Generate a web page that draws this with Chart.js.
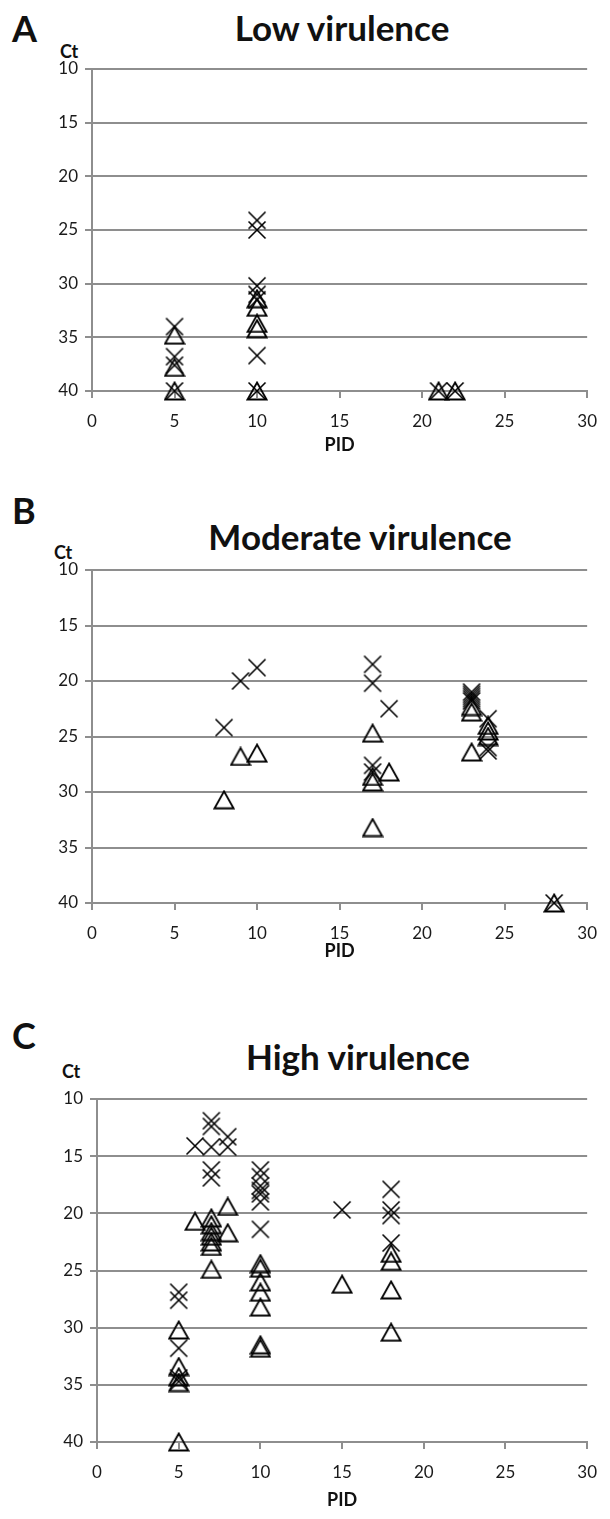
<!DOCTYPE html>
<html>
<head>
<meta charset="utf-8">
<script src="https://cdn.jsdelivr.net/npm/chart.js@4.4.1/dist/chart.umd.min.js"></script>
<style>
  body { margin: 0; background: #fff; width: 610px; height: 1519px; position: relative; overflow: hidden; font-family: Lato, "Open Sans", sans-serif; color: #111; }
  .panel { position: absolute; left: 0; width: 610px; }
  .letter { position: absolute; font-weight: bold; font-size: 36px; line-height: 1; }
  .title { position: absolute; font-weight: bold; font-size: 35px; line-height: 1; white-space: nowrap; transform: translateX(-50%); }
  .ct { position: absolute; font-weight: bold; font-size: 18px; line-height: 1; }
</style>
</head>
<body>
<div class="letter" style="left:12px; top:10px;">A</div>
<div class="title" style="left:342px; top:10px;">Low virulence</div>
<div class="ct" style="left:60px; top:42px;">Ct</div>
<div class="panel" style="top:0; height:465px;"><canvas id="chart-low"></canvas></div>

<div class="letter" style="left:12px; top:492px;">B</div>
<div class="title" style="left:360px; top:519px;">Moderate virulence</div>
<div class="ct" style="left:54px; top:543px;">Ct</div>
<div class="panel" style="top:480px; height:490px;"><canvas id="chart-moderate"></canvas></div>

<div class="letter" style="left:12px; top:1017px;">C</div>
<div class="title" style="left:358px; top:1039px;">High virulence</div>
<div class="ct" style="left:62px; top:1062px;">Ct</div>
<div class="panel" style="top:990px; height:529px;"><canvas id="chart-high"></canvas></div>

<script>
// tick labels
const pidTicks = [0, 5, 10, 15, 20, 25, 30];
const ctTicks = [10, 15, 20, 25, 30, 35, 40];

// A - low virulence
const lowCrossPid = [5, 5, 5, 5, 10, 10, 10, 10, 10, 10, 10, 21, 22];
const lowCrossCt = [34.0, 36.8, 37.6, 40, 24.1, 25.0, 30.2, 31.0, 31.5, 36.7, 40, 40, 40];
const lowTriPid = [5, 5, 5, 10, 10, 10, 10, 10, 21, 22];
const lowTriCt = [34.8, 37.8, 40, 31.4, 32.2, 33.7, 34.2, 40, 40, 40];

// B - moderate virulence
const modCrossPid = [8, 9, 10, 17, 17, 17, 17, 18, 23, 23, 23, 23, 23, 24, 24, 24, 28];
const modCrossCt = [24.2, 20.0, 18.8, 18.5, 20.2, 27.6, 28.2, 22.5, 21.0, 21.2, 21.4, 21.6, 21.8, 23.4, 26.0, 26.3, 40];
const modTriPid = [8, 9, 10, 17, 17, 17, 17, 18, 23, 23, 23, 24, 24, 24, 28];
const modTriCt = [30.7, 26.8, 26.5, 24.7, 28.6, 29.1, 33.2, 28.2, 22.3, 22.8, 26.4, 24.0, 24.5, 25.0, 40];

// C - high virulence
const highCrossPid = [5, 5, 5, 5, 5, 6, 7, 7, 7, 7, 7, 8, 8, 10, 10, 10, 10, 10, 10, 10, 15, 18, 18, 18, 18];
const highCrossCt = [26.9, 27.6, 31.8, 34.4, 34.7, 14.1, 11.9, 12.4, 14.2, 16.2, 16.9, 13.3, 14.2,
  16.2, 16.8, 17.6, 18.0, 18.3, 19.0, 21.4, 19.7, 17.9, 19.7, 20.2, 22.6];
const highTriPid = [5, 5, 5, 5, 5, 6, 7, 7, 7, 7, 7, 7, 7, 8, 8, 10, 10, 10, 10, 10, 10, 10, 15, 18, 18, 18, 18];
const highTriCt = [30.2, 33.4, 34.3, 34.8, 40, 20.7, 20.4, 21.0, 21.6, 22.0, 22.5, 22.9, 24.9, 19.4, 21.7,
  24.4, 24.8, 26.0, 26.9, 28.2, 31.5, 31.8, 26.2, 23.5, 24.2, 26.7, 30.4];

// marker images, centred on their bounding box like the original markers
function crossMarker() {
  const c = document.createElement("canvas");
  c.width = 20; c.height = 20;
  const g = c.getContext("2d");
  g.strokeStyle = "#000";
  g.lineWidth = 1.6;
  g.beginPath();
  g.moveTo(1.5, 1.5); g.lineTo(18.5, 18.5);
  g.moveTo(18.5, 1.5); g.lineTo(1.5, 18.5);
  g.stroke();
  return c;
}
function triangleMarker() {
  const c = document.createElement("canvas");
  c.width = 22; c.height = 20;
  const g = c.getContext("2d");
  g.strokeStyle = "#000";
  g.lineWidth = 1.8;
  g.lineJoin = "miter";
  g.beginPath();
  g.moveTo(11, 1.5);
  g.lineTo(20.5, 18.5);
  g.lineTo(1.5, 18.5);
  g.closePath();
  g.stroke();
  return c;
}
const crossImg = crossMarker();
const triImg = triangleMarker();

function toPoints(xs, ys) {
  return xs.map((x, i) => ({ x: x, y: ys[i] }));
}

const tickFont = { family: "Lato, 'Open Sans', sans-serif", size: 17 };
const gridGrey = "#8e8e8e";

function makeChart(id, crossPid, crossCt, triPid, triCt, box) {
  const ctx = document.getElementById(id).getContext("2d");
  return new Chart(ctx, {
    type: "scatter",
    data: {
      datasets: [
        {
          label: "cross",
          data: toPoints(crossPid, crossCt),
          pointStyle: crossImg,
          clip: false,
        },
        {
          label: "triangle",
          data: toPoints(triPid, triCt),
          pointStyle: triImg,
          clip: false,
        },
      ],
    },
    options: {
      responsive: true,
      maintainAspectRatio: false,
      animation: false,
      events: [],
      layout: {
        padding: { top: box.top, left: 0, right: 610 - box.right, bottom: 0 },
      },
      plugins: {
        legend: { display: false },
        tooltip: { enabled: false },
      },
      scales: {
        x: {
          type: "linear",
          min: 0,
          max: 30,
          afterFit: function (scale) {
            scale.height = box.height - box.bottom;
          },
          afterBuildTicks: function (scale) {
            scale.ticks = pidTicks.map((v) => ({ value: v }));
          },
          ticks: {
            color: "#1a1a1a",
            font: tickFont,
            padding: 13,
            maxRotation: 0,
          },
          grid: {
            drawOnChartArea: false,
            color: gridGrey,
            lineWidth: 2,
            tickLength: 7,
          },
          border: { color: gridGrey, width: 2 },
          title: {
            display: true,
            text: "PID",
            color: "#111",
            font: { family: "Lato, 'Open Sans', sans-serif", size: 18, weight: "bold" },
            padding: { bottom: box.pidGap },
          },
        },
        y: {
          type: "linear",
          reverse: true,
          min: 10,
          max: 40,
          afterFit: function (scale) {
            scale.width = box.left;
          },
          afterBuildTicks: function (scale) {
            scale.ticks = ctTicks.map((v) => ({ value: v }));
          },
          ticks: {
            color: "#1a1a1a",
            font: tickFont,
            padding: 7,
          },
          grid: {
            color: gridGrey,
            lineWidth: 2,
            tickLength: 7,
          },
          border: { color: gridGrey, width: 2 },
        },
      },
    },
  });
}

const chartLow = makeChart("chart-low", lowCrossPid, lowCrossCt, lowTriPid, lowTriCt,
  { left: 92, right: 595, top: 69, bottom: 391, height: 465, pidGap: 9 });
const chartModerate = makeChart("chart-moderate", modCrossPid, modCrossCt, modTriPid, modTriCt,
  { left: 92, right: 595, top: 90, bottom: 423, height: 490, pidGap: 8 });
const chartHigh = makeChart("chart-high", highCrossPid, highCrossCt, highTriPid, highTriCt,
  { left: 97, right: 597, top: 109, bottom: 452, height: 529, pidGap: 8 });
</script>
</body>
</html>
